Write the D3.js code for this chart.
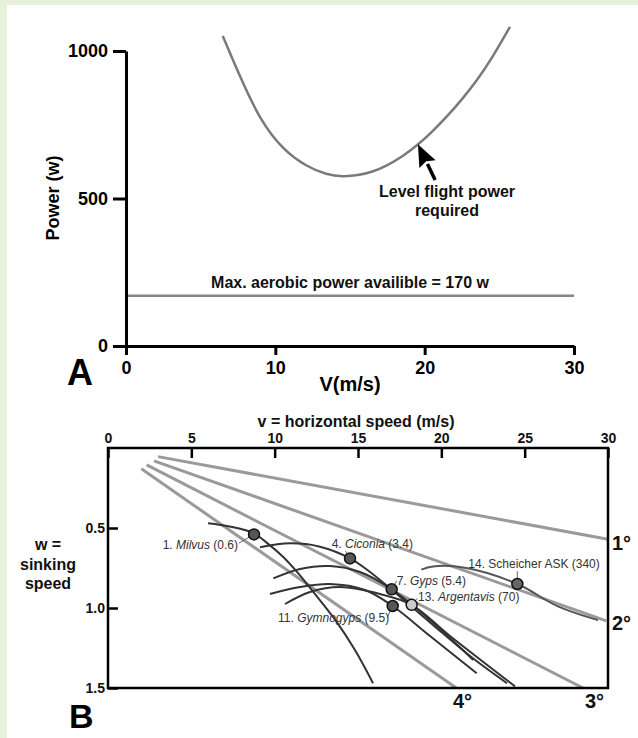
<!DOCTYPE html>
<html>
<head>
<meta charset="utf-8">
<script src="https://cdn.jsdelivr.net/npm/d3@7"></script>
<style>
  html, body { margin: 0; padding: 0; background: #e8f1dc; }
  svg { display: block; }
  text { font-family: "Liberation Sans", Arial, Helvetica, sans-serif; }
</style>
</head>
<body>
<svg id="chart" width="638" height="738"></svg>
<script>
// ---------- Panel A data ----------
const powerSpeed = [6.48, 7.63, 8.97, 10.53, 12.10, 13.44, 14.55, 15.5, 16.5, 17.5, 18.5, 19.5, 20.5, 21.5, 22.5, 23.5, 24.5, 25.71];
const powerRequired = [1051, 913, 766, 664, 608, 580, 574, 578, 590, 612, 642, 680, 726, 778, 836, 900, 975, 1082];
const aerobicPower = 170;
const aTicksX = [0, 10, 20, 30];
const aTicksY = [0, 500, 1000];
const arrowTip = [19.55, 684];
const arrowTail = [20.7, 563];

// ---------- Panel B data ----------
const bTicksX = [0, 5, 10, 15, 20, 25, 30];
const bTicksY = [0.5, 1.0, 1.5];
const glideLabels = ["1°", "2°", "3°", "4°"];
const glideStart = [[3.0, 0.054], [2.76, 0.08], [2.32, 0.106], [2.0, 0.13]];
const glideEnd = [[30, 0.57], [29.9, 1.08], [28.5, 1.5], [20.9, 1.5]];

const polarMilvus = [[6.0,0.47],[7.3,0.49],[8.7,0.53],[9.5,0.59],[10.5,0.68],[11.3,0.77],[12.4,0.91],[13.6,1.07],[14.8,1.26],[15.9,1.47]];
const polarCiconia = [[9.12,0.62],[10.92,0.596],[12.72,0.617],[14.52,0.69],[15.72,0.775],[16.92,0.877],[19.32,1.09],[21.72,1.30],[23.94,1.47]];
const polarGyps = [[9.92,0.815],[11.52,0.756],[13.32,0.7375],[15.12,0.775],[17.02,0.883],[19.32,1.075],[21.92,1.325]];
const polarGymnogyps = [[9.72,0.9125],[11.52,0.869],[13.32,0.85],[15.42,0.8875],[17.08,0.9875],[19.32,1.175],[22.12,1.408]];
const polarArgentavis = [[10.62,0.975],[12.12,0.9],[13.92,0.869],[16.32,0.9125],[18.22,0.98],[20.52,1.175],[24.42,1.49]];
const polarScheicher = [[18.8,0.76],[19.5,0.74],[21.5,0.75],[24.56,0.85],[27.0,0.99],[29.4,1.076]];

const birdNames = ["1. |Milvus| (0.6)", "4. |Ciconia| (3.4)", "7. |Gyps| (5.4)", "13. |Argentavis| (70)", "11. |Gymnogyps| (9.5)", "14. Scheicher ASK (340)"];
const birdBest = [[8.76,0.54],[14.52,0.69],[17.02,0.883],[18.22,0.98],[17.08,0.9875],[24.56,0.85]];
const birdFill = ["#555","#555","#555","#ccc","#555","#666"];

// ---------- Drawing ----------
const svg = d3.select("#chart");
svg.append("rect").attr("x",0).attr("y",0).attr("width",638).attr("height",738).attr("fill","#e8f1dc");
svg.append("rect").attr("x",7).attr("y",5).attr("width",631).attr("height",733).attr("fill","#ffffff");

// Panel A
const xA = d3.scaleLinear().domain([0,30]).range([126,574]);
const yA = d3.scaleLinear().domain([0,1000]).range([346,51]);
const gA = svg.append("g");

gA.append("line")
  .attr("x1", xA(0)).attr("x2", xA(30))
  .attr("y1", yA(aerobicPower)).attr("y2", yA(aerobicPower))
  .attr("stroke","#858585").attr("stroke-width",2.5);

const powerData = powerSpeed.map((v,i)=>[v, powerRequired[i]]);
gA.append("path")
  .datum(powerData)
  .attr("d", d3.line().x(d=>xA(d[0])).y(d=>yA(d[1])).curve(d3.curveBasis))
  .attr("fill","none").attr("stroke","#7a7a7a").attr("stroke-width",2.5);

const axYA = gA.append("g").attr("transform",`translate(${xA(0)},0)`)
  .call(d3.axisLeft(yA).tickValues(aTicksY).tickFormat(d3.format("d")).tickSize(13).tickSizeOuter(0).tickPadding(5));
const axXA = gA.append("g").attr("transform",`translate(0,${yA(0)})`)
  .call(d3.axisBottom(xA).tickValues(aTicksX).tickFormat(d3.format("d")).tickSize(9).tickSizeOuter(0).tickPadding(6));
[axYA, axXA].forEach(ax => {
  ax.selectAll("path,line").attr("stroke","#000").attr("stroke-width",3);
  ax.selectAll("text").attr("fill","#000").style("font-size","18px").style("font-weight","bold");
});

gA.append("text").attr("x",350).attr("y",288).attr("text-anchor","middle")
  .style("font-size","16px").style("font-weight","bold").attr("fill","#111")
  .text("Max. aerobic power availible = " + aerobicPower + " w");

(function(){
  const tx = xA(arrowTip[0]), ty = yA(arrowTip[1]);
  const ex = xA(arrowTail[0]), ey = yA(arrowTail[1]);
  const ang = Math.atan2(ey-ty, ex-tx);
  const L = 22, W = 9;
  const bx = tx + L*Math.cos(ang), by = ty + L*Math.sin(ang);
  const px = -Math.sin(ang), py = Math.cos(ang);
  gA.append("line").attr("x1",bx).attr("y1",by).attr("x2",ex).attr("y2",ey)
    .attr("stroke","#000").attr("stroke-width",3.5);
  gA.append("path")
    .attr("d", `M${tx},${ty} L${bx+px*W},${by+py*W} L${bx-3*Math.cos(ang)},${by-3*Math.sin(ang)} L${bx-px*W},${by-py*W} Z`)
    .attr("fill","#000");
})();
gA.append("text").attr("x",447).attr("y",197).attr("text-anchor","middle")
  .style("font-size","16px").style("font-weight","bold").attr("fill","#111").text("Level flight power");
gA.append("text").attr("x",447).attr("y",216).attr("text-anchor","middle")
  .style("font-size","16px").style("font-weight","bold").attr("fill","#111").text("required");

gA.append("text").attr("transform","translate(59,198) rotate(-90)").attr("text-anchor","middle")
  .style("font-size","18px").style("font-weight","bold").attr("fill","#000").text("Power (w)");
gA.append("text").attr("x",350).attr("y",391).attr("text-anchor","middle")
  .style("font-size","20px").style("font-weight","bold").attr("fill","#000").text("V(m/s)");
gA.append("text").attr("x",67).attr("y",385)
  .style("font-size","36px").style("font-weight","bold").attr("fill","#000").text("A");

// Panel B
const xB = d3.scaleLinear().domain([0,30]).range([108,608]);
const yB = d3.scaleLinear().domain([0,1.5]).range([448,688]);
const gB = svg.append("g");

glideLabels.forEach((lab,i)=>{
  gB.append("line")
    .attr("x1", xB(glideStart[i][0])).attr("y1", yB(glideStart[i][1]))
    .attr("x2", xB(glideEnd[i][0])).attr("y2", yB(glideEnd[i][1]))
    .attr("stroke","#9a9a9a").attr("stroke-width",3);
});

const lineB = d3.line().x(d=>xB(d[0])).y(d=>yB(d[1])).curve(d3.curveCatmullRom);
[polarMilvus, polarCiconia, polarGyps, polarGymnogyps, polarArgentavis, polarScheicher].forEach((p,i)=>{
  gB.append("path").datum(p).attr("d", lineB)
    .attr("fill","none").attr("stroke", i===5 ? "#555" : "#333").attr("stroke-width",2);
});

gB.append("rect").attr("x",xB(0)).attr("y",yB(0))
  .attr("width",xB(30)-xB(0)).attr("height",yB(1.5)-yB(0))
  .attr("fill","none").attr("stroke","#000").attr("stroke-width",2.5);

const axXB = gB.append("g").attr("transform",`translate(0,${yB(0)})`)
  .call(d3.axisTop(xB).tickValues(bTicksX).tickFormat(d3.format("d")).tickSize(-10).tickSizeOuter(0).tickPadding(5));
const axYB = gB.append("g").attr("transform",`translate(${xB(0)},0)`)
  .call(d3.axisLeft(yB).tickValues(bTicksY).tickSize(-10).tickSizeOuter(0).tickPadding(3).tickFormat(d3.format(".1f")));
[axXB, axYB].forEach(ax=>{
  ax.select(".domain").remove();
  ax.selectAll("line").attr("stroke","#000").attr("stroke-width",2.5);
  ax.selectAll("text").attr("fill","#111").style("font-size","14px").style("font-weight","bold");
});

const labelAnchor = [[7.8,0.63,"end"],[13.42,0.625,"start"],[17.32,0.856,"start"],[18.6,0.956,"start"],[10.2,1.0875,"start"],[21.62,0.75,"start"]];
const leaderFrom = [[7.85,0.595],[14.25,0.645],[17.32,0.83],[18.55,0.94],[16.75,1.06],[24.56,0.77]];
birdNames.forEach((name,i)=>{
  gB.append("line")
    .attr("x1",xB(leaderFrom[i][0])).attr("y1",yB(leaderFrom[i][1]))
    .attr("x2",xB(birdBest[i][0])).attr("y2",yB(birdBest[i][1]))
    .attr("stroke","#666").attr("stroke-width",1);
});
birdBest.forEach((d,i)=>{
  gB.append("circle").attr("cx",xB(d[0])).attr("cy",yB(d[1])).attr("r",5.5)
    .attr("fill",birdFill[i]).attr("stroke","#111").attr("stroke-width",1.5);
});
birdNames.forEach((name,i)=>{
  const t = gB.append("text").attr("x",xB(labelAnchor[i][0])).attr("y",yB(labelAnchor[i][1]))
    .attr("text-anchor",labelAnchor[i][2]).style("font-size","12px").attr("fill","#333");
  name.split("|").forEach((part,j)=>{
    t.append("tspan").style("font-style", j===1 ? "italic" : "normal").text(part);
  });
});

const glideLabelPos = [[612,550,"start"],[612,630,"start"],[585,708,"start"],[453,708,"start"]];
glideLabels.forEach((lab,i)=>{
  gB.append("text").attr("x",glideLabelPos[i][0]).attr("y",glideLabelPos[i][1])
    .attr("text-anchor",glideLabelPos[i][2])
    .style("font-size","20px").style("font-weight","bold").attr("fill","#111").text(lab);
});

gB.append("text").attr("x",356).attr("y",427).attr("text-anchor","middle")
  .style("font-size","16px").style("font-weight","bold").attr("fill","#111").text("v = horizontal speed (m/s)");
["w =","sinking","speed"].forEach((s,i)=>{
  gB.append("text").attr("x",48).attr("y",550+i*19.5).attr("text-anchor","middle")
    .style("font-size","16px").style("font-weight","bold").attr("fill","#111").text(s);
});
gB.append("text").attr("x",69).attr("y",728)
  .style("font-size","34px").style("font-weight","bold").attr("fill","#000").text("B");
</script>
</body>
</html>
